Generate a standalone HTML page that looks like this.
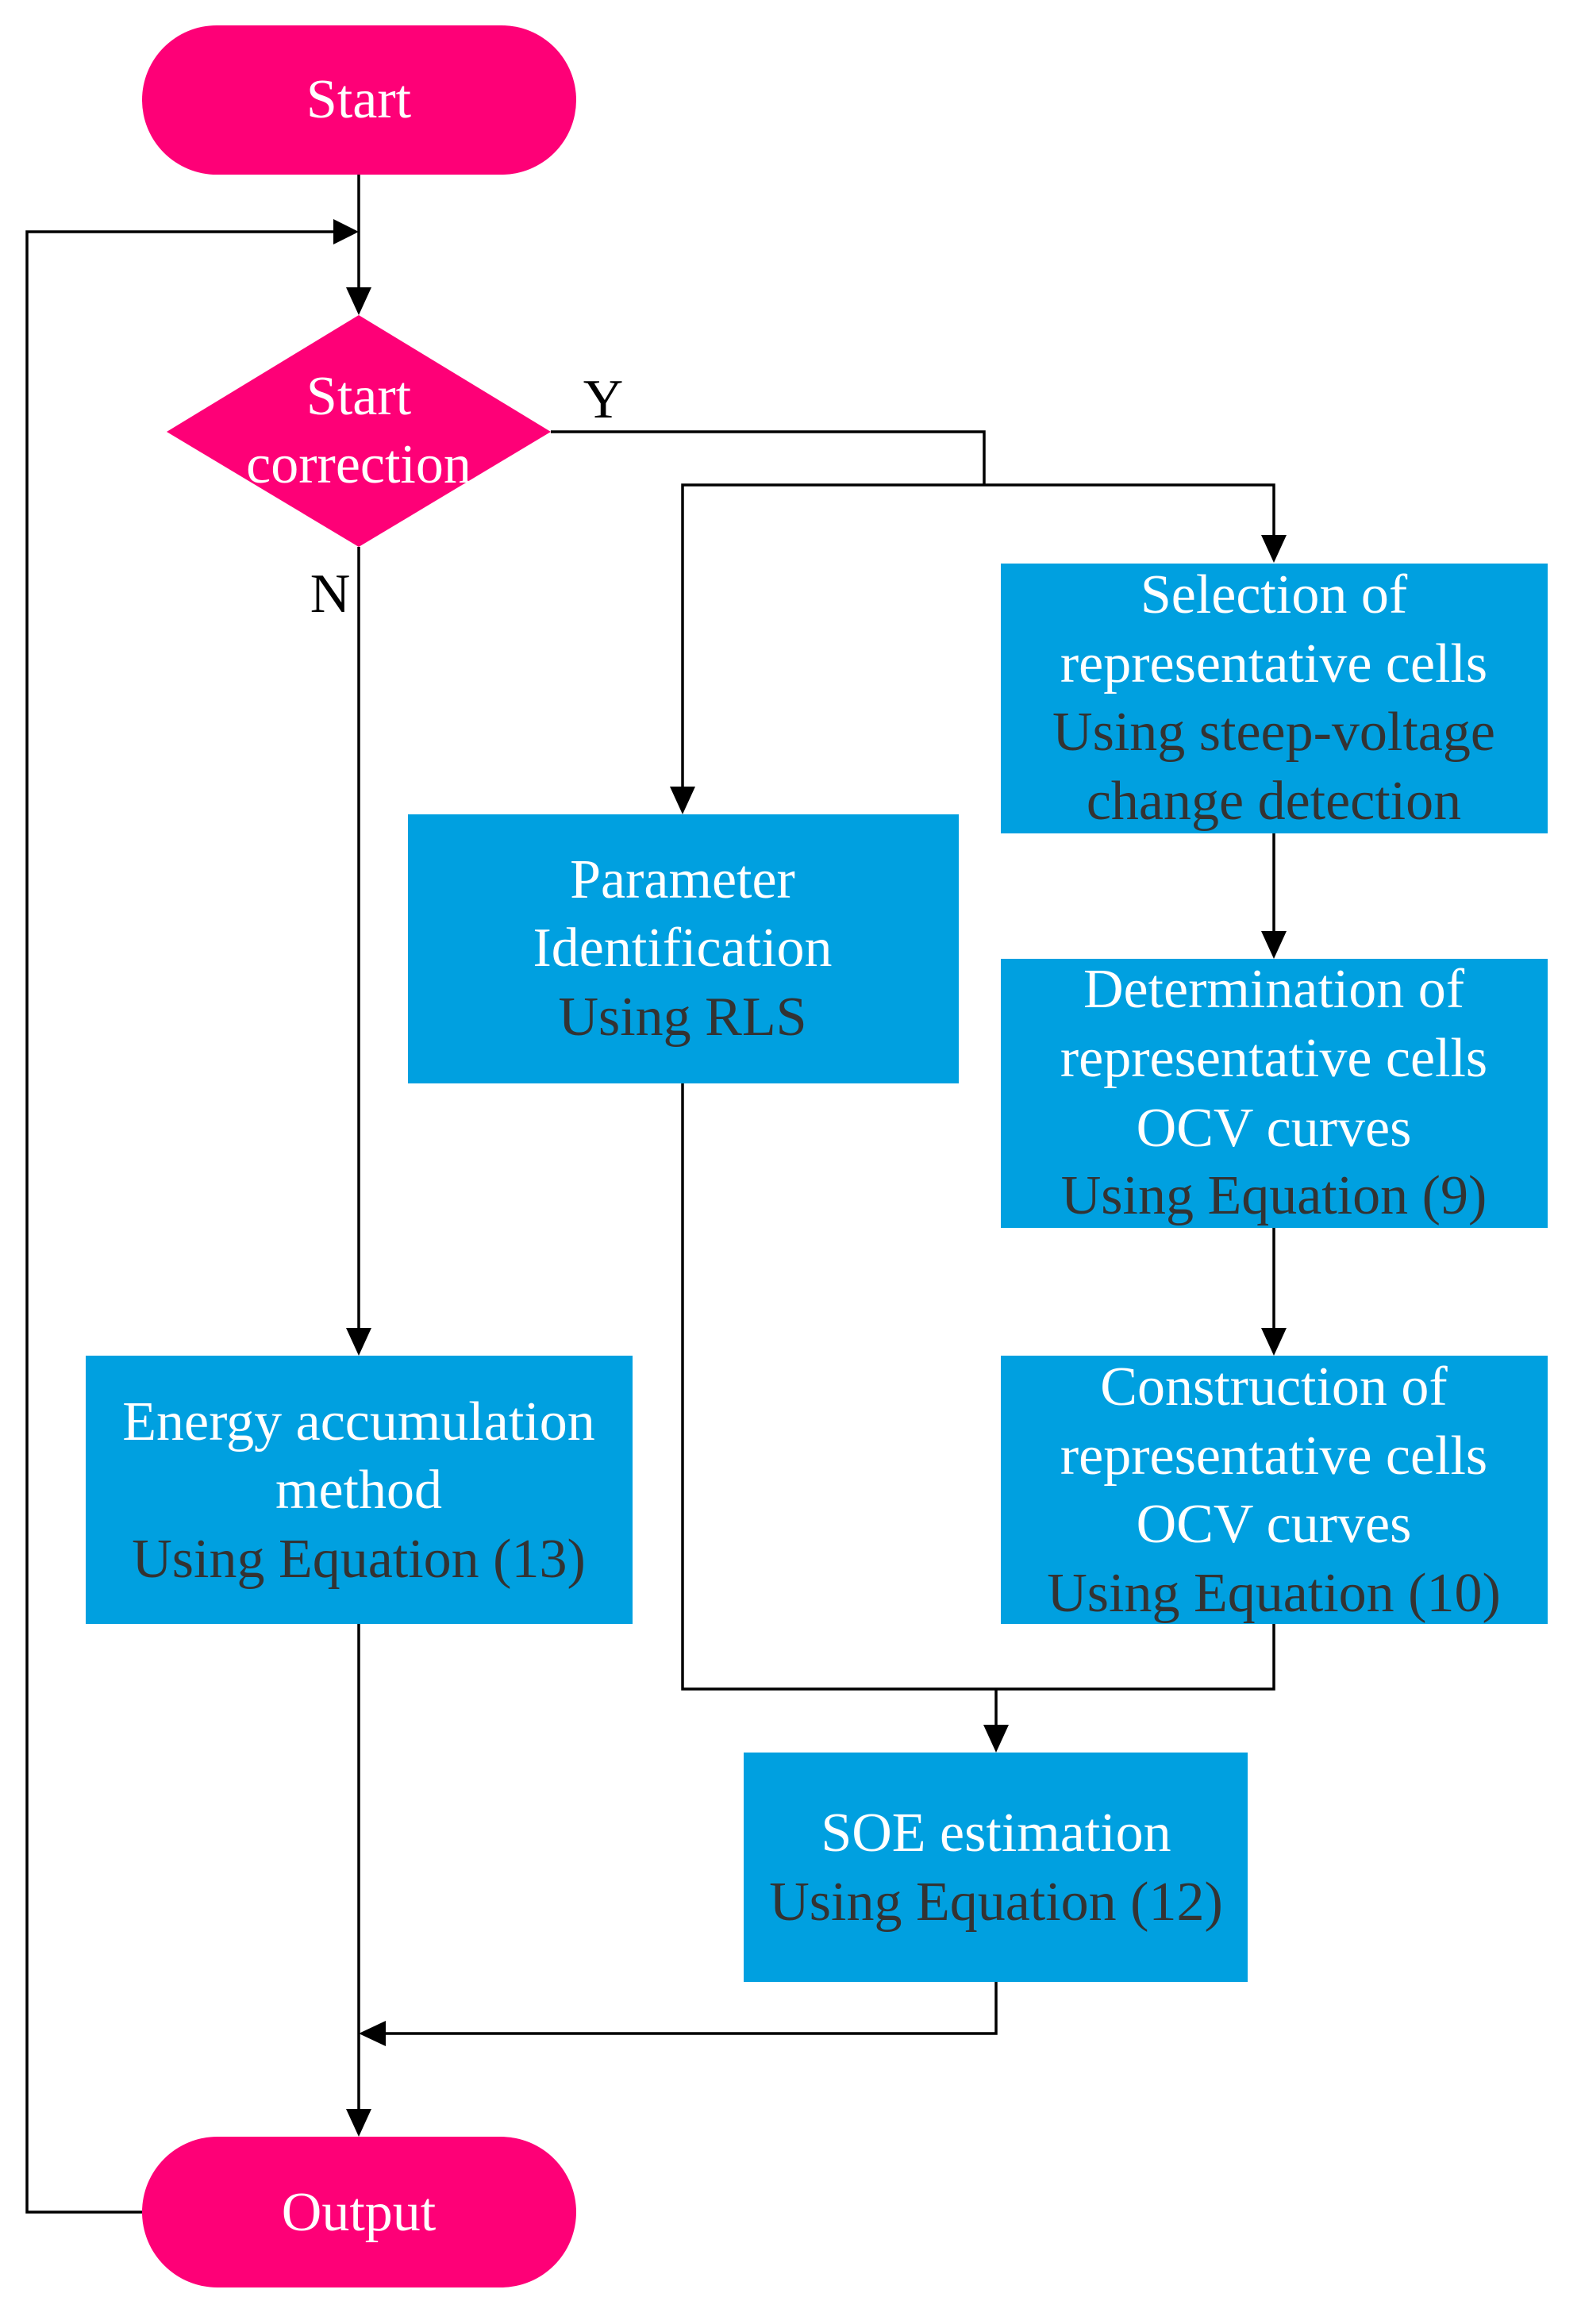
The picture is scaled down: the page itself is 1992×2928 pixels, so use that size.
<!DOCTYPE html>
<html><head><meta charset="utf-8"><style>html,body{margin:0;padding:0;background:#fff}svg{display:block}</style></head>
<body>
<svg xmlns="http://www.w3.org/2000/svg" width="1992" height="2928" viewBox="0 0 1992 2928">
<g fill="none" stroke="#000" stroke-width="3.5">
<line x1="452" y1="220" x2="452" y2="362"/>
<polyline points="179,2787 34,2787 34,292 420,292"/>
<polyline points="694,544 1240,544 1240,611"/>
<polyline points="860,1020 860,611 1605,611 1605,678"/>
<line x1="452" y1="689" x2="452" y2="1676"/>
<line x1="1605" y1="1048" x2="1605" y2="1176"/>
<line x1="1605" y1="1547" x2="1605" y2="1676"/>
<polyline points="860,1365 860,2128 1605,2128 1605,2046"/>
<line x1="1255" y1="2128" x2="1255" y2="2176"/>
<line x1="452" y1="2046" x2="452" y2="2660"/>
<polyline points="1255,2497 1255,2562 484,2562"/>
</g>
<g fill="#000">
<polygon points="452,292 420,276 420,308"/>
<polygon points="452,397 436,362 468,362"/>
<polygon points="1605,709 1589,674 1621,674"/>
<polygon points="860,1026 844,991 876,991"/>
<polygon points="1605,1208 1589,1173 1621,1173"/>
<polygon points="1605,1708 1589,1673 1621,1673"/>
<polygon points="452,1708 436,1673 468,1673"/>
<polygon points="1255,2208 1239,2173 1271,2173"/>
<polygon points="452,2562 486,2546 486,2578"/>
<polygon points="452,2692 436,2657 468,2657"/>
</g>
<rect x="179" y="32" width="547" height="188" rx="94" fill="#fe0077"/>
<rect x="179" y="2692" width="547" height="190" rx="95" fill="#fe0077"/>
<polygon points="452,397 694,544 452,689 210,544" fill="#fe0077"/>
<g fill="#00a0e0">
<rect x="1261" y="710" width="689" height="340"/>
<rect x="514" y="1026" width="694" height="339"/>
<rect x="1261" y="1208" width="689" height="339"/>
<rect x="1261" y="1708" width="689" height="338"/>
<rect x="108" y="1708" width="689" height="338"/>
<rect x="937" y="2208" width="635" height="289"/>
</g>
<g font-family="'Liberation Serif', serif" font-size="70" text-anchor="middle">
<g fill="#fff">
<text x="452" y="148">Start</text>
<text x="452" y="522">Start</text>
<text x="452" y="608">correction</text>
<text x="452" y="2810">Output</text>
<text x="1605" y="772">Selection of</text>
<text x="1605" y="859">representative cells</text>
<text x="860" y="1131">Parameter</text>
<text x="860" y="1217">Identification</text>
<text x="1605" y="1269">Determination of</text>
<text x="1605" y="1356">representative cells</text>
<text x="1605" y="1444">OCV curves</text>
<text x="1605" y="1770">Construction of</text>
<text x="1605" y="1857">representative cells</text>
<text x="1605" y="1943">OCV curves</text>
<text x="452" y="1814">Energy accumulation</text>
<text x="452" y="1900">method</text>
<text x="1255" y="2332">SOE estimation</text>
</g>
<g fill="#333">
<text x="1605" y="945">Using steep-voltage</text>
<text x="1605" y="1032">change detection</text>
<text x="860" y="1304">Using RLS</text>
<text x="1605" y="1529">Using Equation (9)</text>
<text x="1605" y="2030">Using Equation (10)</text>
<text x="452" y="1987">Using Equation (13)</text>
<text x="1255" y="2419">Using Equation (12)</text>
</g>
<g fill="#000">
<text x="760" y="526">Y</text>
<text x="416" y="771">N</text>
</g>
</g>
</svg>
</body></html>
